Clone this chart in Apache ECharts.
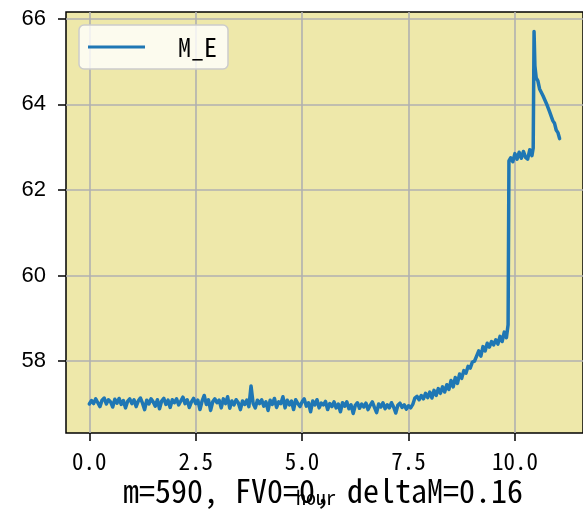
<!DOCTYPE html>
<html>
<head>
<meta charset="utf-8">
<script src="https://cdn.jsdelivr.net/npm/echarts@6/dist/echarts.min.js"></script>
<style>
html,body{margin:0;padding:0;background:#fff;}
#chart{width:583px;height:514px;}
</style>
</head>
<body>
<div id="chart"></div>
<script>
// ---- data ----
const hours = [
  0.00,0.05,0.10,0.15,0.20,0.25,0.30,0.35,0.40,0.45,
  0.50,0.55,0.60,0.65,0.70,0.75,0.80,0.85,0.90,0.95,
  1.00,1.05,1.10,1.15,1.20,1.25,1.30,1.35,1.40,1.45,
  1.50,1.55,1.60,1.65,1.70,1.75,1.80,1.85,1.90,1.95,
  2.00,2.05,2.10,2.15,2.20,2.25,2.30,2.35,2.40,2.45,
  2.50,2.55,2.60,2.65,2.70,2.75,2.80,2.85,2.90,2.95,
  3.00,3.05,3.10,3.15,3.20,3.25,3.30,3.35,3.40,3.45,
  3.50,3.55,3.60,3.65,3.70,3.75,3.80,3.85,3.90,3.95,
  4.00,4.05,4.10,4.15,4.20,4.25,4.30,4.35,4.40,4.45,
  4.50,4.55,4.60,4.65,4.70,4.75,4.80,4.85,4.90,4.95,
  5.00,5.05,5.10,5.15,5.20,5.25,5.30,5.35,5.40,5.45,
  5.50,5.55,5.60,5.65,5.70,5.75,5.80,5.85,5.90,5.95,
  6.00,6.05,6.10,6.15,6.20,6.25,6.30,6.35,6.40,6.45,
  6.50,6.55,6.60,6.65,6.70,6.75,6.80,6.85,6.90,6.95,
  7.00,7.05,7.10,7.15,7.20,7.25,7.30,7.35,7.40,7.45,
  7.50,7.55,7.60,7.65,7.70,7.75,7.80,7.85,7.90,7.95,
  8.00,8.05,8.10,8.15,8.20,8.25,8.30,8.35,8.40,8.45,
  8.50,8.55,8.60,8.65,8.70,8.75,8.80,8.85,8.90,8.95,
  9.00,9.05,9.10,9.15,9.20,9.25,9.30,9.35,9.40,9.45,
  9.50,9.55,9.60,9.65,9.70,9.75,9.80,9.84,9.86,9.90,
  9.95,10.00,10.05,10.10,10.15,10.20,10.25,10.30,10.35,10.40,
  10.43,10.45,10.47,10.50,10.54,10.58,10.62,10.66,10.70,10.74,
  10.78,10.81,10.85,10.89,10.93,10.97,11.01,11.05
];
const mE = [
  57.00,57.08,57.01,57.12,57.03,56.94,57.09,57.14,57.00,57.10,
  57.05,56.93,57.11,57.02,57.13,56.99,57.08,56.91,57.06,57.12,
  57.01,57.10,56.94,57.07,57.14,57.02,56.87,57.09,57.00,57.12,
  57.05,56.95,57.10,56.89,57.07,57.13,56.99,57.09,56.92,57.10,
  57.03,57.12,56.98,57.07,57.16,57.01,57.10,56.92,57.05,57.13,
  57.01,57.09,56.87,57.07,57.20,56.99,57.10,56.85,57.05,57.12,
  57.03,57.09,56.91,57.12,57.01,57.17,56.90,57.07,56.98,57.10,
  57.03,56.87,57.07,56.99,57.09,56.94,57.42,57.01,56.91,57.09,
  57.01,57.10,56.95,57.05,56.85,57.09,56.99,57.13,56.92,57.05,
  57.01,57.17,56.91,57.09,56.98,57.07,56.87,57.10,57.01,56.94,
  57.05,57.12,56.95,57.03,56.82,57.07,56.98,57.10,56.91,57.02,
  56.98,57.06,56.87,57.01,56.94,57.05,56.91,57.00,56.82,57.03,
  56.95,57.05,56.89,56.98,56.78,56.97,57.03,56.90,57.00,56.93,
  57.02,56.87,56.97,57.05,56.92,56.80,57.00,56.93,57.03,56.89,
  56.98,56.91,57.03,56.93,56.79,56.97,57.02,56.92,56.98,56.88,
  56.96,56.91,56.99,57.14,57.18,57.10,57.20,57.12,57.25,57.15,
  57.28,57.14,57.32,57.20,57.36,57.25,57.40,57.28,57.45,57.34,
  57.55,57.40,57.62,57.48,57.70,57.60,57.78,57.72,57.88,57.84,
  57.98,58.00,58.12,58.24,58.12,58.34,58.24,58.42,58.33,58.46,
  58.38,58.50,58.40,58.58,58.46,58.68,58.55,58.85,62.68,62.75,
  62.66,62.85,62.72,62.88,62.74,62.90,62.76,62.72,62.94,62.80,
  62.98,65.70,64.90,64.62,64.55,64.36,64.34,64.20,64.17,64.02,
  63.98,63.84,63.80,63.62,63.56,63.40,63.34,63.20
];
const seriesName = 'M_E';
const xTicks = [0, 2.5, 5, 7.5, 10];
const xTickLabels = ['0.0', '2.5', '5.0', '7.5', '10.0'];
const yTicks = [58, 60, 62, 64, 66];
const yTickLabels = ['58', '60', '62', '64', '66'];
const xAxisName = 'hour';
const titleText = 'm=590, FV0=0, deltaM=0.16';

// ---- chart ----
const mono = "'Noto Sans Mono CJK SC', 'DejaVu Sans Mono', monospace";
const chart = echarts.init(document.getElementById('chart'), null, {renderer: 'canvas'});
const points = hours.map((h, i) => [h, mE[i]]);

chart.setOption({
  animation: false,
  backgroundColor: '#ffffff',
  grid: {
    left: 66, top: 12, right: -1, bottom: 81,
    show: true, backgroundColor: '#EEE8AA',
    borderColor: '#000000', borderWidth: 1.5
  },
  legend: {
    left: 79, top: 25,
    padding: [9, 11, 9, 9],
    backgroundColor: 'rgba(255,255,255,0.8)',
    borderColor: '#cccccc', borderWidth: 1.5, borderRadius: 5,
    icon: 'rect', itemWidth: 57, itemHeight: 3,
    textStyle: {fontFamily: mono, fontSize: 26, color: '#000', padding: [0, 0, 0, 28]},
    data: [seriesName]
  },
  xAxis: {
    type: 'value', min: -0.5475, max: 11.6,
    axisLine: {show: false, onZero: false},
    axisTick: {show: true, customValues: xTicks, length: 8, lineStyle: {color: '#000', width: 1.5}},
    axisLabel: {
      customValues: xTicks, margin: 17, color: '#000',
      fontFamily: mono, fontSize: 23,
      formatter: v => xTickLabels[xTicks.indexOf(v)] ?? ''
    },
    splitLine: {show: true, lineStyle: {color: '#b0b0b0', width: 1.6}}
  },
  yAxis: {
    type: 'value', min: 56.323, max: 66.157,
    axisLine: {show: false, onZero: false},
    axisTick: {show: true, customValues: yTicks, length: 8, lineStyle: {color: '#000', width: 1.5}},
    axisLabel: {
      customValues: yTicks, margin: 20, color: '#000',
      fontFamily: "'Liberation Sans', Arial, sans-serif", fontSize: 22,
      formatter: v => yTickLabels[yTicks.indexOf(v)] ?? ''
    },
    splitLine: {show: true, lineStyle: {color: '#b0b0b0', width: 1.6}}
  },
  graphic: [
    {type: 'text', x: 323, y: 491, z: 10,
     style: {text: titleText, fill: '#000', font: '32px ' + mono, align: 'center', verticalAlign: 'middle'}},
    {type: 'text', x: 316, y: 497, z: 11,
     style: {text: xAxisName, fill: '#000', font: '20px ' + mono, align: 'center', verticalAlign: 'middle'}}
  ],
  series: [{
    name: seriesName, type: 'line', data: points,
    showSymbol: false, symbol: 'none',
    lineStyle: {color: '#1f77b4', width: 3.5, join: 'round', cap: 'round'},
    itemStyle: {color: '#1f77b4'},
    z: 5
  }]
});
</script>
</body>
</html>
